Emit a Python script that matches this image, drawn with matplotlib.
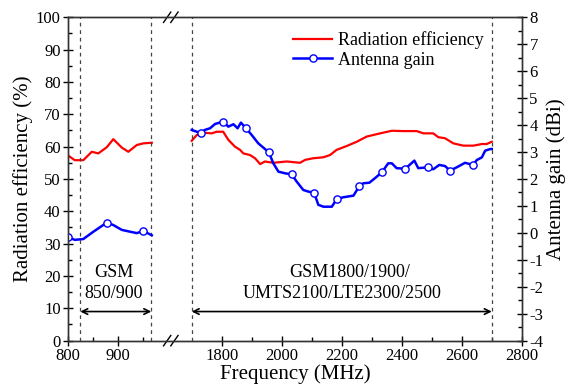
import numpy as np
import matplotlib

matplotlib.use("Agg")
import matplotlib.pyplot as plt
from matplotlib.lines import Line2D

# ---- data ----
# low band (GSM 850/900)
freq_eff_lo = [800, 813, 830, 847, 860, 877, 890, 907, 920, 937, 950, 967]
eff_lo = [57.2, 55.8, 55.8, 58.4, 57.9, 59.8, 62.3, 59.7, 58.4, 60.5, 61.0, 61.2]

freq_gain_lo = [800, 813, 830, 850, 877, 890, 907, 924, 937, 950, 967]
gain_lo = [-0.16, -0.26, -0.23, 0.04, 0.38, 0.29, 0.11, 0.04, -0.01, 0.07, -0.09]

# high band
freq_eff_hi = [1700, 1717, 1739, 1767, 1783, 1805, 1822, 1844, 1861, 1872, 1894,
               1911, 1928, 1944, 1972, 2017, 2061, 2078, 2105, 2139, 2161, 2183,
               2217, 2250, 2283, 2328, 2367, 2405, 2450, 2472, 2505, 2522, 2544,
               2572, 2605, 2639, 2667, 2683, 2700]
eff_hi = [61.8, 63.6, 64.3, 64.1, 64.6, 64.6, 62.1, 60.0, 59.0, 57.9, 57.4,
          56.4, 54.6, 55.4, 55.0, 55.4, 55.0, 55.9, 56.4, 56.7, 57.4, 59.0,
          60.2, 61.5, 63.1, 64.1, 64.9, 64.8, 64.8, 64.1, 64.1, 62.9, 62.6,
          61.0, 60.3, 60.3, 60.8, 60.8, 61.5]

freq_gain_hi = [1700, 1730, 1744, 1761, 1778, 1805, 1822, 1839, 1853, 1864, 1881,
                1900, 1922, 1957, 1972, 1989, 2011, 2033, 2050, 2072, 2089, 2108,
                2122, 2139, 2167, 2183, 2205, 2239, 2259, 2272, 2292, 2311, 2334,
                2355, 2367, 2383, 2410, 2422, 2442, 2455, 2486, 2505, 2525, 2544,
                2561, 2583, 2611, 2637, 2650, 2667, 2678, 2695, 2700]
gain_hi = [3.82, 3.70, 3.82, 3.88, 4.04, 4.13, 3.94, 4.03, 3.88, 4.09, 3.88,
           3.63, 3.32, 2.99, 2.58, 2.27, 2.21, 2.17, 1.90, 1.59, 1.53, 1.49,
           1.04, 0.97, 0.97, 1.25, 1.32, 1.38, 1.74, 1.84, 1.86, 2.03, 2.25,
           2.58, 2.58, 2.40, 2.38, 2.48, 2.68, 2.40, 2.43, 2.36, 2.52, 2.48,
           2.31, 2.43, 2.60, 2.52, 2.70, 2.80, 3.05, 3.11, 3.11]

# open-circle markers on the gain curve
freq_mark = [800, 877, 950, 1730, 1805, 1881, 1957, 2033, 2108, 2183, 2259,
             2334, 2410, 2486, 2561, 2637]
gain_mark = [-0.16, 0.38, 0.07, 3.70, 4.13, 3.88, 2.99, 2.17, 1.49, 1.25, 1.74,
             2.25, 2.38, 2.43, 2.31, 2.52]

band_edges = [824, 966, 1700, 2700]
xticks_major = [800, 900, 1800, 2000, 2200, 2400, 2600, 2800]
xticks_minor = [850, 950, 1900, 2100, 2300, 2500, 2700]


def fx(f):
    # broken frequency axis: 800-1000 stretched, 1630-2800 compressed
    f = np.asarray(f, dtype=float)
    return np.where(f < 1300, (f - 800) * 0.5, 153.4 + (f - 1800) * 0.3)


plt.rcParams["font.family"] = ["Liberation Serif", "DejaVu Serif"]
plt.rcParams["axes.unicode_minus"] = False

fig = plt.figure(figsize=(5.69, 3.92), dpi=100)
ax = fig.add_axes([0.120, 0.131, 0.797, 0.825])
ax2 = ax.twinx()

red = "#ff0000"
blue = "#0000ff"

ax.plot(fx(freq_eff_lo), eff_lo, color=red, lw=1.6)
ax.plot(fx(freq_eff_hi), eff_hi, color=red, lw=1.6)
ax2.plot(fx(freq_gain_lo), gain_lo, color=blue, lw=1.8)
ax2.plot(fx(freq_gain_hi), gain_hi, color=blue, lw=1.8)
ax2.plot(fx(freq_mark), gain_mark, ls="none", marker="o", ms=5.2,
         mfc="white", mec=blue, mew=1.0)

for f in band_edges:
    ax.axvline(fx(f), color="#444444", ls=(0, (3, 3)), lw=0.9)

arrow = dict(arrowstyle="<->", color="black", lw=1.2, shrinkA=0, shrinkB=0)
ax.annotate("", xy=(fx(band_edges[0]), 9), xytext=(fx(band_edges[1]), 9),
            arrowprops=arrow)
ax.annotate("", xy=(fx(band_edges[2]), 9), xytext=(fx(band_edges[3]), 9),
            arrowprops=arrow)

ax.text(fx(891), 21.1, "GSM", ha="center", va="center", fontsize=13)
ax.text(fx(891), 14.6, "850/900", ha="center", va="center", fontsize=13)
ax.text(fx(2228), 21.1, "GSM1800/1900/", ha="center", va="center", fontsize=13)
ax.text(fx(2202), 14.6, "UMTS2100/LTE2300/2500", ha="center", va="center",
        fontsize=13)

ax.set_xlim(0, 453.4)
ax.set_ylim(0, 100)
ax2.set_ylim(-4, 8)

ax.set_xticks(fx(xticks_major))
ax.set_xticklabels([str(v) for v in xticks_major])
ax.set_xticks(fx(xticks_minor), minor=True)
ax.set_yticks(np.arange(0, 101, 10))
ax.set_yticks(np.arange(0, 101, 5), minor=True)
ax2.set_yticks(np.arange(-4, 9, 1))
ax2.set_yticks(np.arange(-4, 8.1, 0.5), minor=True)

ax.tick_params(which="major", direction="inout", length=7, width=1,
               labelsize=12, pad=2, right=False, top=False)
ax.tick_params(which="minor", direction="in", length=3, width=1,
               right=False, top=False)
ax2.tick_params(which="major", direction="inout", length=7, width=1,
                labelsize=12, pad=2)
ax2.tick_params(which="minor", direction="in", length=3, width=1)

ax.set_xlabel("Frequency (MHz)", fontsize=15, labelpad=0)
ax.set_ylabel("Radiation efficiency (%)", fontsize=15, labelpad=2)
ax2.set_ylabel("Antenna gain (dBi)", fontsize=15, labelpad=2)

for a in (ax, ax2):
    for s in a.spines.values():
        s.set_linewidth(1.0)
        s.set_color("#333333")

# axis-break marks
xb = fx(1005) / 453.4
for yb in (0.0, 1.0):
    for off in (-0.008, 0.008):
        ax.plot([xb + off - 0.008, xb + off + 0.008], [yb - 0.016, yb + 0.016],
                transform=ax.transAxes, color="black", lw=1.0, clip_on=False)

handles = [
    Line2D([], [], color=red, lw=1.6),
    Line2D([], [], color=blue, lw=1.8, marker="o", ms=5.2, mfc="white",
           mec=blue, mew=1.0),
]
ax.legend(handles, ["Radiation efficiency", "Antenna gain"], loc="upper left",
          bbox_to_anchor=(0.475, 0.985), frameon=False, fontsize=13,
          handlelength=2.2, handletextpad=0.3, borderpad=0, labelspacing=0.15)

fig.savefig("out.png", dpi=100)
